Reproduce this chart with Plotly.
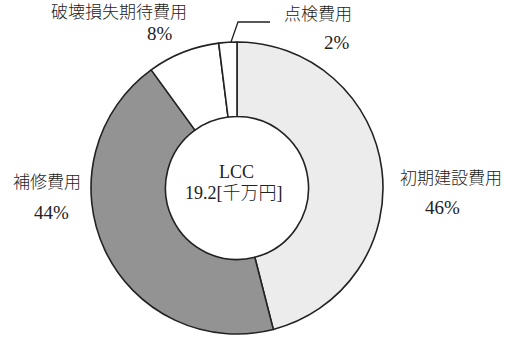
import plotly.graph_objects as go

W, H = 512, 341

# Life-cycle cost breakdown
categories = ["初期建設費用", "補修費用", "破壊損失期待費用", "点検費用"]
shares = [46, 44, 8, 2]
slice_colors = ["#ececec", "#939393", "#ffffff", "#ffffff"]
total_label = ["LCC", "19.2[千万円]"]

FONT = "Liberation Serif, 'Noto Sans CJK JP', serif"


def px(x):
    return x / W


def py(y):
    return 1 - y / H


cx, cy, r = 237, 188, 146

fig = go.Figure(
    go.Pie(
        labels=categories,
        values=shares,
        sort=False,
        direction="clockwise",
        rotation=0,
        hole=0.49,
        marker=dict(colors=slice_colors, line=dict(color="#222222", width=1.6)),
        textinfo="none",
        hoverinfo="label+percent",
        domain=dict(x=[px(cx - r), px(cx + r)], y=[py(cy + r), py(cy - r)]),
    )
)

# label positions (pixel centres) for each category name and its share
label_pos = {
    "初期建設費用": ((451, 178), (442, 207)),
    "補修費用": ((47, 182), (51, 212)),
    "破壊損失期待費用": ((119, 13), (160, 33)),
    "点検費用": ((318, 15), (337, 42)),
}

ann = []
for name, val in zip(categories, shares):
    (nx, ny), (vx, vy) = label_pos[name]
    ann.append(dict(x=px(nx), y=py(ny), text=name, showarrow=False,
                    xref="paper", yref="paper", xanchor="center", yanchor="middle",
                    font=dict(size=17, family=FONT, color="#222222", weight=300)))
    ann.append(dict(x=px(vx), y=py(vy), text=f"{val}%", showarrow=False,
                    xref="paper", yref="paper", xanchor="center", yanchor="middle",
                    font=dict(size=19, family=FONT, color="#222222")))

ann.append(dict(x=px(236), y=py(172), text=total_label[0], showarrow=False,
                xref="paper", yref="paper", xanchor="center", yanchor="middle",
                font=dict(size=18, family=FONT, color="#222222")))
ann.append(dict(x=px(234), y=py(193), text=total_label[1], showarrow=False,
                xref="paper", yref="paper", xanchor="center", yanchor="middle",
                font=dict(size=18, family=FONT, color="#222222", weight=300)))

# leader line to the small inspection-cost slice
shapes = [
    dict(type="path", xref="paper", yref="paper",
         path=f"M {px(231)},{py(42)} L {px(238)},{py(22)} L {px(270)},{py(22)}",
         line=dict(color="#222222", width=1.3)),
]

fig.update_layout(
    width=W, height=H,
    margin=dict(l=0, r=0, t=0, b=0),
    paper_bgcolor="white", plot_bgcolor="white",
    showlegend=False,
    annotations=ann,
    shapes=shapes,
)

fig.write_html("out.html")
